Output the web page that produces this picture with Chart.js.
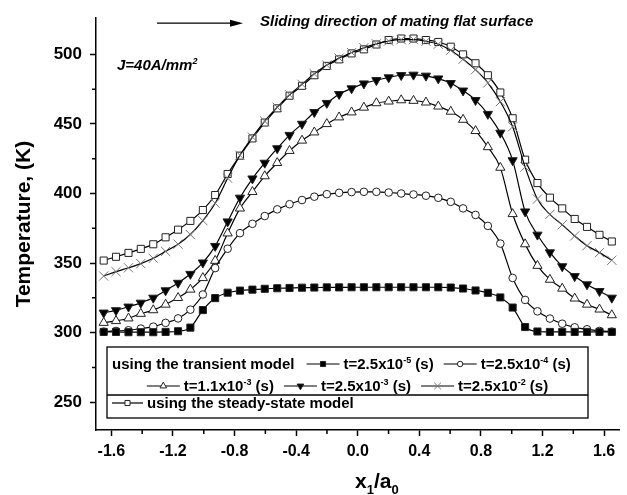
<!DOCTYPE html>
<html>
<head>
<meta charset="utf-8">
<script src="https://cdn.jsdelivr.net/npm/chart.js@4.4.1/dist/chart.umd.min.js"></script>
<style>
  html, body { margin: 0; padding: 0; background: #fff; }
</style>
</head>
<body>
<canvas id="tempChart" width="627" height="495"></canvas>
<script>
// x1/a0 positions of the computed points (same grid for every curve)
const xPos = [-1.650, -1.570, -1.489, -1.409, -1.328, -1.248, -1.167, -1.087, -1.006, -0.926,
              -0.845, -0.765, -0.684, -0.604, -0.523, -0.443, -0.362, -0.282, -0.201, -0.121,
              -0.040, 0.040, 0.121, 0.201, 0.282, 0.362, 0.443, 0.523, 0.604, 0.684,
              0.765, 0.845, 0.926, 1.006, 1.087, 1.167, 1.248, 1.328, 1.409, 1.489,
              1.570, 1.650];

// transient model, t = 2.5x10^-5 s
const tempT1 = [300.5, 300.5, 300.3, 300.3, 300.3, 300.5, 301.0, 303.6, 316.2, 324.8,
                328.7, 330.2, 330.9, 331.5, 331.9, 332.1, 332.3, 332.4, 332.5, 332.5,
                332.6, 332.6, 332.6, 332.6, 332.6, 332.6, 332.6, 332.6, 332.4, 331.7,
                330.3, 328.6, 325.3, 318.0, 304.0, 300.8, 300.5, 300.5, 300.5, 300.5,
                300.5, 300.5];
// t = 2.5x10^-4 s
const tempT2 = [300.7, 301.2, 301.7, 302.9, 304.3, 307.0, 310.2, 316.5, 327.4, 346.4,
                360.3, 371.5, 378.2, 383.8, 388.6, 392.3, 395.3, 397.7, 399.5, 400.5,
                401.0, 401.2, 401.2, 400.7, 400.0, 399.3, 398.4, 396.9, 394.0, 389.3,
                384.6, 376.7, 364.0, 339.3, 323.5, 315.3, 310.1, 306.4, 303.8, 302.4,
                301.2, 300.7];
// t = 1.1x10^-3 s
const tempT3 = [307.1, 308.4, 310.3, 313.6, 316.2, 320.2, 325.0, 331.0, 339.3, 351.7,
                371.4, 389.3, 401.2, 412.5, 422.0, 430.7, 438.1, 444.0, 450.0, 454.8,
                458.4, 461.8, 465.0, 466.2, 467.1, 466.7, 465.5, 462.6, 458.9, 453.1,
                445.0, 433.4, 418.6, 385.3, 363.6, 348.1, 338.1, 331.7, 324.6, 320.2,
                316.7, 312.6];
// t = 2.5x10^-3 s
const tempT4 = [314.3, 316.0, 318.6, 321.4, 325.0, 330.3, 335.7, 342.1, 350.3, 362.2,
                379.8, 396.9, 410.7, 422.0, 432.4, 442.0, 450.0, 458.4, 465.0, 471.4,
                475.5, 479.0, 481.4, 483.4, 485.0, 485.3, 484.6, 482.6, 479.3, 473.9,
                467.1, 457.1, 443.6, 423.8, 387.0, 370.3, 357.6, 347.6, 340.5, 334.6,
                329.8, 325.0];
// t = 2.5x10^-2 s
const tempT5 = [340.7, 343.8, 346.6, 349.6, 353.4, 358.4, 363.6, 370.5, 380.5, 393.0,
                411.0, 427.5, 440.5, 452.0, 462.0, 471.0, 478.5, 486.0, 492.3, 497.3,
                501.3, 504.8, 507.6, 509.6, 510.6, 510.6, 509.4, 507.3, 503.0, 496.5,
                489.0, 479.5, 466.0, 448.0, 419.0, 396.0, 385.0, 377.5, 369.5, 362.5,
                357.5, 352.0];
// steady-state model
const tempSteady = [351.8, 354.5, 357.3, 360.2, 363.5, 368.5, 374.0, 380.3, 388.1, 398.9,
                    414.0, 427.2, 439.6, 451.0, 461.2, 470.3, 477.4, 485.0, 491.7, 496.4,
                    500.7, 503.6, 507.1, 510.3, 511.4, 511.4, 510.3, 508.9, 505.5, 500.0,
                    493.6, 485.0, 472.6, 454.1, 424.3, 407.5, 397.0, 389.3, 381.7, 376.0,
                    370.3, 365.5];

const timeMantissa = ['2.5', '2.5', '1.1', '2.5', '2.5'];
const timeExponent = ['-5', '-4', '-3', '-3', '-2'];

const xMajor = [-1.6, -1.2, -0.8, -0.4, 0.0, 0.4, 0.8, 1.2, 1.6];
const xMinor = [-1.4, -1.0, -0.6, -0.2, 0.2, 0.6, 1.0, 1.4];
const yMajor = [250, 300, 350, 400, 450, 500];
const yMinor = [275, 325, 375, 425, 475];

const FONT = '"Liberation Sans", Arial, Helvetica, sans-serif';
Chart.defaults.font.family = FONT;
Chart.defaults.color = '#000';

function pts(vals) {
  return xPos.map((x, i) => ({ x, y: vals[i] }));
}

function series(label, vals, style, fill, radius, extra) {
  return Object.assign({
    label,
    data: pts(vals),
    showLine: true,
    borderColor: '#000',
    borderWidth: 1.2,
    cubicInterpolationMode: 'monotone',
    pointStyle: style,
    pointRadius: radius,
    pointBackgroundColor: fill,
    pointBorderColor: '#222',
    pointBorderWidth: 1
  }, extra || {});
}

const datasets = [
  series('t1', tempT1, 'rect', '#000', 5),
  series('t2', tempT2, 'circle', '#fff', 3.8),
  series('t3', tempT3, 'triangle', '#fff', 5.3),
  series('t4', tempT4, 'triangle', '#000', 5.3, { pointRotation: 180 }),
  series('t5', tempT5, 'crossRot', '#fff', 6.5, { pointBorderColor: '#777' }),
  series('steady', tempSteady, 'rect', '#fff', 5)
];

// draw text pieces: [text, 0 normal | 1 superscript | -1 subscript]
function richText(ctx, parts, x, y, size, style, draw) {
  let cx = x;
  for (const [t, m] of parts) {
    const fs = m ? Math.round(size * 0.62) : size;
    ctx.font = `${style} ${fs}px ${FONT}`;
    const dy = m === 1 ? -size * 0.42 : (m === -1 ? size * 0.3 : 0);
    if (draw !== false) ctx.fillText(t, cx, y + dy);
    cx += ctx.measureText(t).width;
  }
  return cx - x;
}

const paperBg = {
  id: 'paperBg',
  beforeDraw(chart) {
    const { ctx, width, height } = chart;
    ctx.save();
    ctx.fillStyle = '#fff';
    ctx.fillRect(0, 0, width, height);
    ctx.restore();
  }
};

const minorTicks = {
  id: 'minorTicks',
  afterDraw(chart) {
    const { ctx, scales: { x, y } } = chart;
    ctx.save();
    ctx.strokeStyle = '#000';
    ctx.lineWidth = 1.5;
    ctx.beginPath();
    xMinor.forEach(v => {
      const px = x.getPixelForValue(v);
      ctx.moveTo(px, x.top);
      ctx.lineTo(px, x.top + 4);
    });
    yMinor.forEach(v => {
      const py = y.getPixelForValue(v);
      ctx.moveTo(y.right, py);
      ctx.lineTo(y.right - 4, py);
    });
    ctx.stroke();
    ctx.restore();
  }
};

function legendSample(ctx, ds, x, yMid, len) {
  ctx.save();
  ctx.strokeStyle = '#000';
  ctx.lineWidth = 1.2;
  ctx.beginPath();
  ctx.moveTo(x, yMid);
  ctx.lineTo(x + len, yMid);
  ctx.stroke();
  ctx.fillStyle = ds.pointBackgroundColor;
  ctx.strokeStyle = ds.pointBorderColor;
  ctx.lineWidth = 1;
  Chart.helpers.drawPoint(ctx, {
    pointStyle: ds.pointStyle,
    rotation: ds.pointRotation || 0,
    radius: ds.pointRadius * 0.72,
    borderWidth: 1
  }, x + len / 2, yMid);
  ctx.restore();
}

const annotations = {
  id: 'annotations',
  afterDraw(chart) {
    const { ctx, chartArea: ca } = chart;
    ctx.save();
    ctx.fillStyle = '#000';
    ctx.strokeStyle = '#000';
    ctx.textBaseline = 'alphabetic';
    ctx.textAlign = 'left';

    // sliding direction arrow
    const ay = ca.top + 5;
    ctx.lineWidth = 1.3;
    ctx.beginPath();
    ctx.moveTo(ca.left + 61, ay);
    ctx.lineTo(ca.left + 138, ay);
    ctx.stroke();
    ctx.beginPath();
    ctx.moveTo(ca.left + 147, ay);
    ctx.lineTo(ca.left + 134, ay - 3.5);
    ctx.lineTo(ca.left + 134, ay + 3.5);
    ctx.closePath();
    ctx.fill();
    richText(ctx, [['Sliding direction of mating flat surface', 0]], ca.left + 164, ca.top + 8, 15, 'italic bold');

    // current density
    richText(ctx, [['J=40A/mm', 0], ['2', 1]], ca.left + 21, ca.top + 52, 15, 'italic bold');

    // x axis title with subscripts
    richText(ctx, [['x', 0], ['1', -1], ['/a', 0], ['0', -1]], 355, 488, 21, 'bold');

    // legend box
    const L = 107, T = 347, R = 588, B = 418, D = 395;
    ctx.lineWidth = 1.3;
    ctx.strokeRect(L, T, R - L, B - T);
    ctx.beginPath();
    ctx.moveTo(L, D);
    ctx.lineTo(R, D);
    ctx.stroke();

    const ds = chart.data.datasets;
    const size = 15, lineLen = 33, gap = 4, itemGap = 10;
    const itemParts = i => [['t=' + timeMantissa[i] + 'x10', 0], [timeExponent[i], 1], [' (s)', 0]];
    const itemWidth = i => lineLen + gap + richText(ctx, itemParts(i), 0, 0, size, 'bold', false);

    // row 1
    let cx = L + 5;
    const y1 = 369;
    cx += richText(ctx, [['using the transient model', 0]], cx, y1, size, 'bold') + 12;
    [0, 1].forEach(i => {
      legendSample(ctx, ds[i], cx, y1 - 5, lineLen);
      cx += lineLen + gap;
      cx += richText(ctx, itemParts(i), cx, y1, size, 'bold') + itemGap;
    });

    // row 2, centred
    const y2 = 391;
    const row2 = [2, 3, 4];
    const w2 = row2.reduce((s, i) => s + itemWidth(i), 0) + itemGap * (row2.length - 1);
    cx = (L + R) / 2 - w2 / 2;
    row2.forEach(i => {
      legendSample(ctx, ds[i], cx, y2 - 5, lineLen);
      cx += lineLen + gap;
      cx += richText(ctx, itemParts(i), cx, y2, size, 'bold') + itemGap;
    });

    // row 3
    const y3 = 408;
    cx = L + 5;
    legendSample(ctx, ds[5], cx, y3 - 5, lineLen - 2);
    cx += lineLen - 2 + gap;
    richText(ctx, [['using the steady-state model', 0]], cx, y3, size, 'bold');

    ctx.restore();
  }
};

new Chart(document.getElementById('tempChart'), {
  type: 'scatter',
  data: { datasets },
  options: {
    responsive: false,
    animation: false,
    layout: { padding: { top: 15, right: 4, left: 0, bottom: 0 } },
    plugins: { legend: { display: false }, tooltip: { enabled: false } },
    scales: {
      x: {
        type: 'linear',
        min: -1.7,
        max: 1.7,
        afterBuildTicks: s => { s.ticks = xMajor.map(v => ({ value: v })); },
        afterFit: s => { s.height = 65; },
        ticks: {
          callback: v => Number(v).toFixed(1),
          font: { size: 16, weight: 'bold' },
          color: '#000',
          padding: 6,
          maxRotation: 0,
          autoSkip: false
        },
        grid: { drawOnChartArea: false, tickLength: 6, tickColor: '#000', tickWidth: 1.5 },
        border: { color: '#000', width: 1.5 }
      },
      y: {
        type: 'linear',
        min: 230,
        max: 526,
        afterBuildTicks: s => { s.ticks = yMajor.map(v => ({ value: v })); },
        afterFit: s => { s.width = 96; },
        ticks: {
          callback: v => String(v),
          font: { size: 17, weight: 'bold' },
          color: '#000',
          padding: 8
        },
        grid: { drawOnChartArea: false, tickLength: 6, tickColor: '#000', tickWidth: 1.5 },
        border: { color: '#000', width: 1.5 },
        title: {
          display: true,
          text: 'Temperature, (K)',
          font: { size: 21, weight: 'bold' },
          color: '#000',
          padding: { top: 12, bottom: 0 }
        }
      }
    }
  },
  plugins: [paperBg, minorTicks, annotations]
});
</script>
</body>
</html>
